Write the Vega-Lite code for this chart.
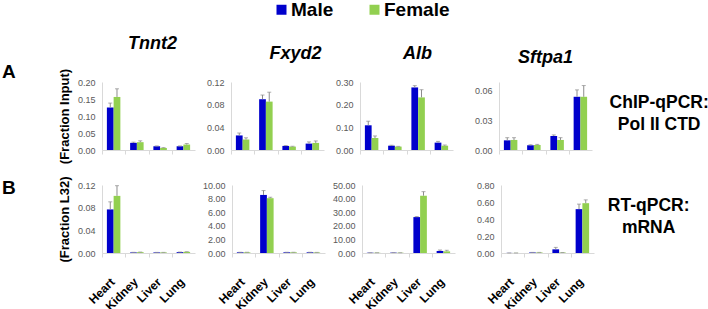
{
  "$schema": "https://vega.github.io/schema/vega-lite/v6.json",
  "padding": {"left": 2, "top": 0, "right": 2, "bottom": 0},
  "config": {
    "font": "Liberation Sans",
    "view": {"stroke": null},
    "axis": {"grid": false, "labelFont": "Liberation Sans", "labelFontSize": 9, "labelColor": "#595959", "domainColor": "#d9d9d9", "tickColor": "#d9d9d9", "titleFont": "Liberation Sans", "titleFontSize": 13, "titleFontWeight": "bold", "titleColor": "#000000"},
    "axisY": {"ticks": false, "labelPadding": 7, "titlePadding": 6},
    "axisX": {"tickSize": 4},
    "title": {"font": "Liberation Sans"}
  },
  "datasets": {
    "d": [
      {"assay":"A","gene":"Tnnt2","tissue":"Heart","sex":"Male","value":0.125,"upper":0.138},
      {"assay":"A","gene":"Tnnt2","tissue":"Heart","sex":"Female","value":0.156,"upper":0.180},
      {"assay":"A","gene":"Tnnt2","tissue":"Kidney","sex":"Male","value":0.021,"upper":0.023},
      {"assay":"A","gene":"Tnnt2","tissue":"Kidney","sex":"Female","value":0.023,"upper":0.027},
      {"assay":"A","gene":"Tnnt2","tissue":"Liver","sex":"Male","value":0.011,"upper":0.012},
      {"assay":"A","gene":"Tnnt2","tissue":"Liver","sex":"Female","value":0.006,"upper":0.007},
      {"assay":"A","gene":"Tnnt2","tissue":"Lung","sex":"Male","value":0.011,"upper":0.012},
      {"assay":"A","gene":"Tnnt2","tissue":"Lung","sex":"Female","value":0.016,"upper":0.019},
      {"assay":"A","gene":"Fxyd2","tissue":"Heart","sex":"Male","value":0.0257,"upper":0.030},
      {"assay":"A","gene":"Fxyd2","tissue":"Heart","sex":"Female","value":0.0185,"upper":0.0215},
      {"assay":"A","gene":"Fxyd2","tissue":"Kidney","sex":"Male","value":0.0896,"upper":0.097},
      {"assay":"A","gene":"Fxyd2","tissue":"Kidney","sex":"Female","value":0.0854,"upper":0.102},
      {"assay":"A","gene":"Fxyd2","tissue":"Liver","sex":"Male","value":0.0072,"upper":0.0078},
      {"assay":"A","gene":"Fxyd2","tissue":"Liver","sex":"Female","value":0.006,"upper":0.0066},
      {"assay":"A","gene":"Fxyd2","tissue":"Lung","sex":"Male","value":0.0113,"upper":0.0143},
      {"assay":"A","gene":"Fxyd2","tissue":"Lung","sex":"Female","value":0.0125,"upper":0.016},
      {"assay":"A","gene":"Alb","tissue":"Heart","sex":"Male","value":0.109,"upper":0.127},
      {"assay":"A","gene":"Alb","tissue":"Heart","sex":"Female","value":0.053,"upper":0.062},
      {"assay":"A","gene":"Alb","tissue":"Kidney","sex":"Male","value":0.019,"upper":0.021},
      {"assay":"A","gene":"Alb","tissue":"Kidney","sex":"Female","value":0.015,"upper":0.016},
      {"assay":"A","gene":"Alb","tissue":"Liver","sex":"Male","value":0.276,"upper":0.284},
      {"assay":"A","gene":"Alb","tissue":"Liver","sex":"Female","value":0.232,"upper":0.266},
      {"assay":"A","gene":"Alb","tissue":"Lung","sex":"Male","value":0.0325,"upper":0.038},
      {"assay":"A","gene":"Alb","tissue":"Lung","sex":"Female","value":0.019,"upper":0.022},
      {"assay":"A","gene":"Sftpa1","tissue":"Heart","sex":"Male","value":0.0098,"upper":0.0125},
      {"assay":"A","gene":"Sftpa1","tissue":"Heart","sex":"Female","value":0.0102,"upper":0.0125},
      {"assay":"A","gene":"Sftpa1","tissue":"Kidney","sex":"Male","value":0.0048,"upper":0.0053},
      {"assay":"A","gene":"Sftpa1","tissue":"Kidney","sex":"Female","value":0.0051,"upper":0.0057},
      {"assay":"A","gene":"Sftpa1","tissue":"Liver","sex":"Male","value":0.0142,"upper":0.0153},
      {"assay":"A","gene":"Sftpa1","tissue":"Liver","sex":"Female","value":0.0102,"upper":0.0125},
      {"assay":"A","gene":"Sftpa1","tissue":"Lung","sex":"Male","value":0.054,"upper":0.061},
      {"assay":"A","gene":"Sftpa1","tissue":"Lung","sex":"Female","value":0.054,"upper":0.0654},
      {"assay":"B","gene":"Tnnt2","tissue":"Heart","sex":"Male","value":0.0769,"upper":0.0903},
      {"assay":"B","gene":"Tnnt2","tissue":"Heart","sex":"Female","value":0.1008,"upper":0.1188},
      {"assay":"B","gene":"Tnnt2","tissue":"Kidney","sex":"Male","value":0.001,"upper":0.0012},
      {"assay":"B","gene":"Tnnt2","tissue":"Kidney","sex":"Female","value":0.0015,"upper":0.0017},
      {"assay":"B","gene":"Tnnt2","tissue":"Liver","sex":"Male","value":0.001,"upper":0.0011},
      {"assay":"B","gene":"Tnnt2","tissue":"Liver","sex":"Female","value":0.001,"upper":0.0011},
      {"assay":"B","gene":"Tnnt2","tissue":"Lung","sex":"Male","value":0.0015,"upper":0.0017},
      {"assay":"B","gene":"Tnnt2","tissue":"Lung","sex":"Female","value":0.002,"upper":0.0023},
      {"assay":"B","gene":"Fxyd2","tissue":"Heart","sex":"Male","value":0.1,"upper":0.11},
      {"assay":"B","gene":"Fxyd2","tissue":"Heart","sex":"Female","value":0.1,"upper":0.11},
      {"assay":"B","gene":"Fxyd2","tissue":"Kidney","sex":"Male","value":8.54,"upper":9.18},
      {"assay":"B","gene":"Fxyd2","tissue":"Kidney","sex":"Female","value":8.06,"upper":8.2},
      {"assay":"B","gene":"Fxyd2","tissue":"Liver","sex":"Male","value":0.1,"upper":0.11},
      {"assay":"B","gene":"Fxyd2","tissue":"Liver","sex":"Female","value":0.1,"upper":0.11},
      {"assay":"B","gene":"Fxyd2","tissue":"Lung","sex":"Male","value":0.1,"upper":0.11},
      {"assay":"B","gene":"Fxyd2","tissue":"Lung","sex":"Female","value":0.08,"upper":0.09},
      {"assay":"B","gene":"Alb","tissue":"Heart","sex":"Male","value":0.2,"upper":0.22},
      {"assay":"B","gene":"Alb","tissue":"Heart","sex":"Female","value":0.2,"upper":0.22},
      {"assay":"B","gene":"Alb","tissue":"Kidney","sex":"Male","value":0.25,"upper":0.27},
      {"assay":"B","gene":"Alb","tissue":"Kidney","sex":"Female","value":0.2,"upper":0.22},
      {"assay":"B","gene":"Alb","tissue":"Liver","sex":"Male","value":26.4,"upper":26.8},
      {"assay":"B","gene":"Alb","tissue":"Liver","sex":"Female","value":42.1,"upper":45.1},
      {"assay":"B","gene":"Alb","tissue":"Lung","sex":"Male","value":1.5,"upper":2.2},
      {"assay":"B","gene":"Alb","tissue":"Lung","sex":"Female","value":1.2,"upper":2.0},
      {"assay":"B","gene":"Sftpa1","tissue":"Heart","sex":"Male","value":0.001,"upper":0.001},
      {"assay":"B","gene":"Sftpa1","tissue":"Heart","sex":"Female","value":0.001,"upper":0.001},
      {"assay":"B","gene":"Sftpa1","tissue":"Kidney","sex":"Male","value":0.006,"upper":0.007},
      {"assay":"B","gene":"Sftpa1","tissue":"Kidney","sex":"Female","value":0.006,"upper":0.007},
      {"assay":"B","gene":"Sftpa1","tissue":"Liver","sex":"Male","value":0.043,"upper":0.066},
      {"assay":"B","gene":"Sftpa1","tissue":"Liver","sex":"Female","value":0.005,"upper":0.006},
      {"assay":"B","gene":"Sftpa1","tissue":"Lung","sex":"Male","value":0.516,"upper":0.575},
      {"assay":"B","gene":"Sftpa1","tissue":"Lung","sex":"Female","value":0.586,"upper":0.625}
    ]
  },
  "data": {"name": "d"},
  "spacing": 12,
  "resolve": {"scale": {"x": "independent", "y": "independent", "xOffset": "independent", "color": "shared"}},
  "vconcat": [
    {
      "title": {"text": ["ChIP-qPCR:", "Pol II CTD"], "orient": "right", "angle": 0, "align": "center", "baseline": "middle", "fontSize": 17.5, "fontWeight": "bold", "color": "#000000", "lineHeight": 22, "anchor": "middle", "frame": "group", "offset": -32, "dy": 21},
      "spacing": 21,
      "resolve": {"scale": {"x": "independent", "y": "independent", "xOffset": "independent", "color": "shared"}},
      "hconcat": [
        {
          "title": {"text": "A", "orient": "left", "angle": 0, "align": "right", "baseline": "middle", "fontSize": 19, "fontWeight": "bold", "color": "#000000", "anchor": "middle", "frame": "group", "offset": 29, "dy": -10},
          "spacing": 11,
          "resolve": {"scale": {"x": "independent", "y": "independent", "xOffset": "independent", "color": "shared"}},
          "hconcat": [
            {
              "width": 93, "height": 68,
              "title": {"text": "Tnnt2", "fontSize": 18, "fontWeight": "bold", "fontStyle": "italic", "color": "#000000", "anchor": "middle", "frame": "group", "offset": 15, "dx": 4},
              "transform": [{"filter": "datum.assay === 'A' && datum.gene === 'Tnnt2'"}],
              "encoding": {
                "x": {"field": "tissue", "type": "nominal", "sort": ["Heart", "Kidney", "Liver", "Lung"], "scale": {"paddingInner": 0.42, "paddingOuter": 0.21}, "axis": {"labels": false, "title": null, "tickOffset": -11.625}},
                "xOffset": {"field": "sex", "type": "nominal", "sort": ["Male", "Female"], "scale": {"paddingInner": 0, "paddingOuter": 0}}
              },
              "layer": [
                {"mark": {"type": "bar"}, "encoding": {
                  "y": {"field": "value", "type": "quantitative", "scale": {"domain": [0, 0.2], "nice": false}, "axis": {"values": [0, 0.05, 0.1, 0.15, 0.2], "format": ".2f", "title": "(Fraction Input)"}},
                  "color": {"field": "sex", "type": "nominal", "scale": {"domain": ["Male", "Female"], "range": ["#0000CC", "#92D050"]}, "legend": {"title": null, "orient": "none", "legendX": 170, "legendY": -82, "direction": "horizontal", "symbolType": "square", "symbolSize": 100, "symbolStrokeWidth": 0, "labelFontSize": 19, "labelFontWeight": "bold", "labelColor": "#000000", "labelFont": "Liberation Sans", "columnPadding": 31, "labelOffset": 0, "padding": 0}}}},
                {"mark": {"type": "rule", "color": "#8c8c8c"}, "encoding": {
                  "y": {"field": "value", "type": "quantitative", "scale": {"domain": [0, 0.2], "nice": false}, "axis": {"values": [0, 0.05, 0.1, 0.15, 0.2], "format": ".2f", "title": "(Fraction Input)"}},
                  "y2": {"field": "upper"}}},
                {"mark": {"type": "tick", "orient": "horizontal", "size": 4, "thickness": 1, "color": "#8c8c8c"}, "encoding": {
                  "y": {"field": "upper", "type": "quantitative", "scale": {"domain": [0, 0.2], "nice": false}, "axis": {"values": [0, 0.05, 0.1, 0.15, 0.2], "format": ".2f", "title": "(Fraction Input)"}}}}
              ]
            },
            {
              "width": 93, "height": 68,
              "title": {"text": "Fxyd2", "fontSize": 18, "fontWeight": "bold", "fontStyle": "italic", "color": "#000000", "anchor": "middle", "frame": "group", "offset": 15, "dx": 18},
              "transform": [{"filter": "datum.assay === 'A' && datum.gene === 'Fxyd2'"}],
              "encoding": {
                "x": {"field": "tissue", "type": "nominal", "sort": ["Heart", "Kidney", "Liver", "Lung"], "scale": {"paddingInner": 0.42, "paddingOuter": 0.21}, "axis": {"labels": false, "title": null, "tickOffset": -11.625}},
                "xOffset": {"field": "sex", "type": "nominal", "sort": ["Male", "Female"], "scale": {"paddingInner": 0, "paddingOuter": 0}}
              },
              "layer": [
                {"mark": {"type": "bar"}, "encoding": {
                  "y": {"field": "value", "type": "quantitative", "scale": {"domain": [0, 0.12], "nice": false}, "axis": {"values": [0, 0.04, 0.08, 0.12], "format": ".2f", "title": null}},
                  "color": {"field": "sex", "type": "nominal", "scale": {"domain": ["Male", "Female"], "range": ["#0000CC", "#92D050"]}, "legend": {"title": null, "orient": "none", "legendX": 170, "legendY": -82, "direction": "horizontal", "symbolType": "square", "symbolSize": 100, "symbolStrokeWidth": 0, "labelFontSize": 19, "labelFontWeight": "bold", "labelColor": "#000000", "labelFont": "Liberation Sans", "columnPadding": 31, "labelOffset": 0, "padding": 0}}}},
                {"mark": {"type": "rule", "color": "#8c8c8c"}, "encoding": {
                  "y": {"field": "value", "type": "quantitative", "scale": {"domain": [0, 0.12], "nice": false}, "axis": {"values": [0, 0.04, 0.08, 0.12], "format": ".2f", "title": null}},
                  "y2": {"field": "upper"}}},
                {"mark": {"type": "tick", "orient": "horizontal", "size": 4, "thickness": 1, "color": "#8c8c8c"}, "encoding": {
                  "y": {"field": "upper", "type": "quantitative", "scale": {"domain": [0, 0.12], "nice": false}, "axis": {"values": [0, 0.04, 0.08, 0.12], "format": ".2f", "title": null}}}}
              ]
            },
            {
              "width": 93, "height": 68,
              "title": {"text": "Alb", "fontSize": 18, "fontWeight": "bold", "fontStyle": "italic", "color": "#000000", "anchor": "middle", "frame": "group", "offset": 15, "dx": 11},
              "transform": [{"filter": "datum.assay === 'A' && datum.gene === 'Alb'"}],
              "encoding": {
                "x": {"field": "tissue", "type": "nominal", "sort": ["Heart", "Kidney", "Liver", "Lung"], "scale": {"paddingInner": 0.42, "paddingOuter": 0.21}, "axis": {"labels": false, "title": null, "tickOffset": -11.625}},
                "xOffset": {"field": "sex", "type": "nominal", "sort": ["Male", "Female"], "scale": {"paddingInner": 0, "paddingOuter": 0}}
              },
              "layer": [
                {"mark": {"type": "bar"}, "encoding": {
                  "y": {"field": "value", "type": "quantitative", "scale": {"domain": [0, 0.3], "nice": false}, "axis": {"values": [0, 0.1, 0.2, 0.3], "format": ".2f", "title": null}},
                  "color": {"field": "sex", "type": "nominal", "scale": {"domain": ["Male", "Female"], "range": ["#0000CC", "#92D050"]}, "legend": {"title": null, "orient": "none", "legendX": 170, "legendY": -82, "direction": "horizontal", "symbolType": "square", "symbolSize": 100, "symbolStrokeWidth": 0, "labelFontSize": 19, "labelFontWeight": "bold", "labelColor": "#000000", "labelFont": "Liberation Sans", "columnPadding": 31, "labelOffset": 0, "padding": 0}}}},
                {"mark": {"type": "rule", "color": "#8c8c8c"}, "encoding": {
                  "y": {"field": "value", "type": "quantitative", "scale": {"domain": [0, 0.3], "nice": false}, "axis": {"values": [0, 0.1, 0.2, 0.3], "format": ".2f", "title": null}},
                  "y2": {"field": "upper"}}},
                {"mark": {"type": "tick", "orient": "horizontal", "size": 4, "thickness": 1, "color": "#8c8c8c"}, "encoding": {
                  "y": {"field": "upper", "type": "quantitative", "scale": {"domain": [0, 0.3], "nice": false}, "axis": {"values": [0, 0.1, 0.2, 0.3], "format": ".2f", "title": null}}}}
              ]
            }
          ]
        },
        {
          "width": 93, "height": 68,
          "title": {"text": "Sftpa1", "fontSize": 18, "fontWeight": "bold", "fontStyle": "italic", "color": "#000000", "anchor": "middle", "frame": "group", "offset": 15, "dx": 0},
          "transform": [{"filter": "datum.assay === 'A' && datum.gene === 'Sftpa1'"}],
          "encoding": {
            "x": {"field": "tissue", "type": "nominal", "sort": ["Heart", "Kidney", "Liver", "Lung"], "scale": {"paddingInner": 0.42, "paddingOuter": 0.21}, "axis": {"labels": false, "title": null, "tickOffset": -11.625}},
            "xOffset": {"field": "sex", "type": "nominal", "sort": ["Male", "Female"], "scale": {"paddingInner": 0, "paddingOuter": 0}}
          },
          "layer": [
            {"mark": {"type": "bar"}, "encoding": {
              "y": {"field": "value", "type": "quantitative", "scale": {"domain": [0, 0.069], "nice": false}, "axis": {"values": [0, 0.03, 0.06], "format": ".2f", "title": null}},
              "color": {"field": "sex", "type": "nominal", "scale": {"domain": ["Male", "Female"], "range": ["#0000CC", "#92D050"]}, "legend": {"title": null, "orient": "none", "legendX": 170, "legendY": -82, "direction": "horizontal", "symbolType": "square", "symbolSize": 100, "symbolStrokeWidth": 0, "labelFontSize": 19, "labelFontWeight": "bold", "labelColor": "#000000", "labelFont": "Liberation Sans", "columnPadding": 31, "labelOffset": 0, "padding": 0}}}},
            {"mark": {"type": "rule", "color": "#8c8c8c"}, "encoding": {
              "y": {"field": "value", "type": "quantitative", "scale": {"domain": [0, 0.069], "nice": false}, "axis": {"values": [0, 0.03, 0.06], "format": ".2f", "title": null}},
              "y2": {"field": "upper"}}},
            {"mark": {"type": "tick", "orient": "horizontal", "size": 4, "thickness": 1, "color": "#8c8c8c"}, "encoding": {
              "y": {"field": "upper", "type": "quantitative", "scale": {"domain": [0, 0.069], "nice": false}, "axis": {"values": [0, 0.03, 0.06], "format": ".2f", "title": null}}}}
          ]
        }
      ]
    },
    {
      "title": {"text": ["RT-qPCR:", "mRNA"], "orient": "right", "angle": 0, "align": "center", "baseline": "middle", "fontSize": 17.5, "fontWeight": "bold", "color": "#000000", "lineHeight": 22, "anchor": "middle", "frame": "group", "offset": -27, "dy": 21},
      "spacing": 21,
      "resolve": {"scale": {"x": "independent", "y": "independent", "xOffset": "independent", "color": "shared"}},
      "hconcat": [
        {
          "title": {"text": "B", "orient": "left", "angle": 0, "align": "right", "baseline": "middle", "fontSize": 19, "fontWeight": "bold", "color": "#000000", "anchor": "middle", "frame": "group", "offset": 29, "dy": 3},
          "spacing": 7,
          "resolve": {"scale": {"x": "independent", "y": "independent", "xOffset": "independent", "color": "shared"}},
          "hconcat": [
            {
              "width": 93, "height": 68,
              "transform": [{"filter": "datum.assay === 'B' && datum.gene === 'Tnnt2'"}],
              "encoding": {
                "x": {"field": "tissue", "type": "nominal", "sort": ["Heart", "Kidney", "Liver", "Lung"], "scale": {"paddingInner": 0.42, "paddingOuter": 0.21}, "axis": {"title": null, "tickOffset": -11.625, "labelOffset": 6.6, "labelAngle": -45, "labelAlign": "right", "labelBaseline": "top", "labelFontSize": 12, "labelFontWeight": "bold", "labelColor": "#000000", "labelPadding": 19}},
                "xOffset": {"field": "sex", "type": "nominal", "sort": ["Male", "Female"], "scale": {"paddingInner": 0, "paddingOuter": 0}}
              },
              "layer": [
                {"mark": {"type": "bar"}, "encoding": {
                  "y": {"field": "value", "type": "quantitative", "scale": {"domain": [0, 0.12], "nice": false}, "axis": {"values": [0, 0.04, 0.08, 0.12], "format": ".2f", "title": "(Fraction L32)"}},
                  "color": {"field": "sex", "type": "nominal", "scale": {"domain": ["Male", "Female"], "range": ["#0000CC", "#92D050"]}, "legend": {"title": null, "orient": "none", "legendX": 170, "legendY": -82, "direction": "horizontal", "symbolType": "square", "symbolSize": 100, "symbolStrokeWidth": 0, "labelFontSize": 19, "labelFontWeight": "bold", "labelColor": "#000000", "labelFont": "Liberation Sans", "columnPadding": 31, "labelOffset": 0, "padding": 0}}}},
                {"mark": {"type": "rule", "color": "#8c8c8c"}, "encoding": {
                  "y": {"field": "value", "type": "quantitative", "scale": {"domain": [0, 0.12], "nice": false}, "axis": {"values": [0, 0.04, 0.08, 0.12], "format": ".2f", "title": "(Fraction L32)"}},
                  "y2": {"field": "upper"}}},
                {"mark": {"type": "tick", "orient": "horizontal", "size": 4, "thickness": 1, "color": "#8c8c8c"}, "encoding": {
                  "y": {"field": "upper", "type": "quantitative", "scale": {"domain": [0, 0.12], "nice": false}, "axis": {"values": [0, 0.04, 0.08, 0.12], "format": ".2f", "title": "(Fraction L32)"}}}}
              ]
            },
            {
              "width": 93, "height": 68,
              "transform": [{"filter": "datum.assay === 'B' && datum.gene === 'Fxyd2'"}],
              "encoding": {
                "x": {"field": "tissue", "type": "nominal", "sort": ["Heart", "Kidney", "Liver", "Lung"], "scale": {"paddingInner": 0.42, "paddingOuter": 0.21}, "axis": {"title": null, "tickOffset": -11.625, "labelOffset": 6.6, "labelAngle": -45, "labelAlign": "right", "labelBaseline": "top", "labelFontSize": 12, "labelFontWeight": "bold", "labelColor": "#000000", "labelPadding": 19}},
                "xOffset": {"field": "sex", "type": "nominal", "sort": ["Male", "Female"], "scale": {"paddingInner": 0, "paddingOuter": 0}}
              },
              "layer": [
                {"mark": {"type": "bar"}, "encoding": {
                  "y": {"field": "value", "type": "quantitative", "scale": {"domain": [0, 10], "nice": false}, "axis": {"values": [0, 2, 4, 6, 8, 10], "format": ".2f", "title": null}},
                  "color": {"field": "sex", "type": "nominal", "scale": {"domain": ["Male", "Female"], "range": ["#0000CC", "#92D050"]}, "legend": {"title": null, "orient": "none", "legendX": 170, "legendY": -82, "direction": "horizontal", "symbolType": "square", "symbolSize": 100, "symbolStrokeWidth": 0, "labelFontSize": 19, "labelFontWeight": "bold", "labelColor": "#000000", "labelFont": "Liberation Sans", "columnPadding": 31, "labelOffset": 0, "padding": 0}}}},
                {"mark": {"type": "rule", "color": "#8c8c8c"}, "encoding": {
                  "y": {"field": "value", "type": "quantitative", "scale": {"domain": [0, 10], "nice": false}, "axis": {"values": [0, 2, 4, 6, 8, 10], "format": ".2f", "title": null}},
                  "y2": {"field": "upper"}}},
                {"mark": {"type": "tick", "orient": "horizontal", "size": 4, "thickness": 1, "color": "#8c8c8c"}, "encoding": {
                  "y": {"field": "upper", "type": "quantitative", "scale": {"domain": [0, 10], "nice": false}, "axis": {"values": [0, 2, 4, 6, 8, 10], "format": ".2f", "title": null}}}}
              ]
            },
            {
              "width": 93, "height": 68,
              "transform": [{"filter": "datum.assay === 'B' && datum.gene === 'Alb'"}],
              "encoding": {
                "x": {"field": "tissue", "type": "nominal", "sort": ["Heart", "Kidney", "Liver", "Lung"], "scale": {"paddingInner": 0.42, "paddingOuter": 0.21}, "axis": {"title": null, "tickOffset": -11.625, "labelOffset": 6.6, "labelAngle": -45, "labelAlign": "right", "labelBaseline": "top", "labelFontSize": 12, "labelFontWeight": "bold", "labelColor": "#000000", "labelPadding": 19}},
                "xOffset": {"field": "sex", "type": "nominal", "sort": ["Male", "Female"], "scale": {"paddingInner": 0, "paddingOuter": 0}}
              },
              "layer": [
                {"mark": {"type": "bar"}, "encoding": {
                  "y": {"field": "value", "type": "quantitative", "scale": {"domain": [0, 50], "nice": false}, "axis": {"values": [0, 10, 20, 30, 40, 50], "format": ".2f", "title": null}},
                  "color": {"field": "sex", "type": "nominal", "scale": {"domain": ["Male", "Female"], "range": ["#0000CC", "#92D050"]}, "legend": {"title": null, "orient": "none", "legendX": 170, "legendY": -82, "direction": "horizontal", "symbolType": "square", "symbolSize": 100, "symbolStrokeWidth": 0, "labelFontSize": 19, "labelFontWeight": "bold", "labelColor": "#000000", "labelFont": "Liberation Sans", "columnPadding": 31, "labelOffset": 0, "padding": 0}}}},
                {"mark": {"type": "rule", "color": "#8c8c8c"}, "encoding": {
                  "y": {"field": "value", "type": "quantitative", "scale": {"domain": [0, 50], "nice": false}, "axis": {"values": [0, 10, 20, 30, 40, 50], "format": ".2f", "title": null}},
                  "y2": {"field": "upper"}}},
                {"mark": {"type": "tick", "orient": "horizontal", "size": 4, "thickness": 1, "color": "#8c8c8c"}, "encoding": {
                  "y": {"field": "upper", "type": "quantitative", "scale": {"domain": [0, 50], "nice": false}, "axis": {"values": [0, 10, 20, 30, 40, 50], "format": ".2f", "title": null}}}}
              ]
            }
          ]
        },
        {
          "width": 93, "height": 68,
          "transform": [{"filter": "datum.assay === 'B' && datum.gene === 'Sftpa1'"}],
          "encoding": {
            "x": {"field": "tissue", "type": "nominal", "sort": ["Heart", "Kidney", "Liver", "Lung"], "scale": {"paddingInner": 0.42, "paddingOuter": 0.21}, "axis": {"title": null, "tickOffset": -11.625, "labelOffset": 6.6, "labelAngle": -45, "labelAlign": "right", "labelBaseline": "top", "labelFontSize": 12, "labelFontWeight": "bold", "labelColor": "#000000", "labelPadding": 19}},
            "xOffset": {"field": "sex", "type": "nominal", "sort": ["Male", "Female"], "scale": {"paddingInner": 0, "paddingOuter": 0}}
          },
          "layer": [
            {"mark": {"type": "bar"}, "encoding": {
              "y": {"field": "value", "type": "quantitative", "scale": {"domain": [0, 0.8], "nice": false}, "axis": {"values": [0, 0.2, 0.4, 0.6, 0.8], "format": ".2f", "title": null}},
              "color": {"field": "sex", "type": "nominal", "scale": {"domain": ["Male", "Female"], "range": ["#0000CC", "#92D050"]}, "legend": {"title": null, "orient": "none", "legendX": 170, "legendY": -82, "direction": "horizontal", "symbolType": "square", "symbolSize": 100, "symbolStrokeWidth": 0, "labelFontSize": 19, "labelFontWeight": "bold", "labelColor": "#000000", "labelFont": "Liberation Sans", "columnPadding": 31, "labelOffset": 0, "padding": 0}}}},
            {"mark": {"type": "rule", "color": "#8c8c8c"}, "encoding": {
              "y": {"field": "value", "type": "quantitative", "scale": {"domain": [0, 0.8], "nice": false}, "axis": {"values": [0, 0.2, 0.4, 0.6, 0.8], "format": ".2f", "title": null}},
              "y2": {"field": "upper"}}},
            {"mark": {"type": "tick", "orient": "horizontal", "size": 4, "thickness": 1, "color": "#8c8c8c"}, "encoding": {
              "y": {"field": "upper", "type": "quantitative", "scale": {"domain": [0, 0.8], "nice": false}, "axis": {"values": [0, 0.2, 0.4, 0.6, 0.8], "format": ".2f", "title": null}}}}
          ]
        }
      ]
    }
  ]
}
